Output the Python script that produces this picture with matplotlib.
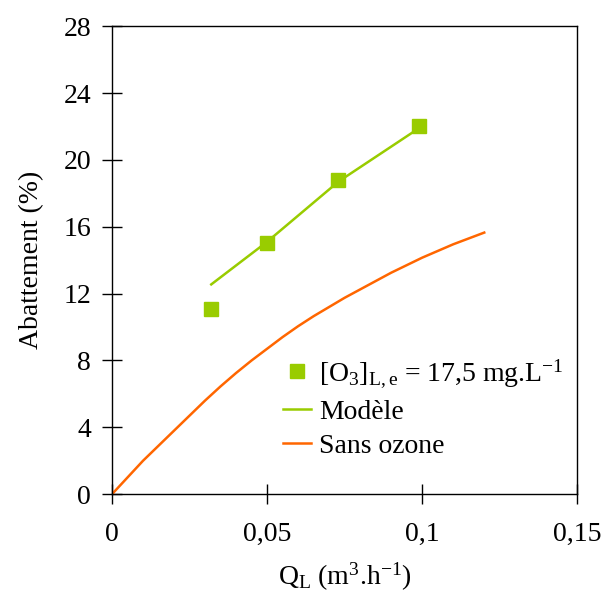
import matplotlib
matplotlib.use("Agg")
import matplotlib.pyplot as plt

# measured points, [O3]L,e = 17,5 mg/L
q_exp = [0.032, 0.050, 0.073, 0.099]
abat_exp = [11.1, 15.0, 18.8, 22.0]

# model curve
q_mod = [0.032, 0.050, 0.073, 0.099]
abat_mod = [12.55, 15.1, 18.7, 21.9]

# without ozone
q_sans = [0, 0.005, 0.01, 0.015, 0.02, 0.025, 0.03, 0.035, 0.04, 0.045, 0.05,
          0.055, 0.06, 0.065, 0.07, 0.075, 0.08, 0.085, 0.09, 0.095, 0.10,
          0.105, 0.11, 0.115, 0.12]
abat_sans = [0, 1.0, 2.0, 2.9, 3.8, 4.7, 5.6, 6.45, 7.25, 8.0, 8.7,
             9.4, 10.05, 10.65, 11.2, 11.75, 12.25, 12.75, 13.25, 13.7, 14.15,
             14.55, 14.95, 15.3, 15.65]

x_ticks = [0, 0.05, 0.1, 0.15]
x_ticklabels = ['0', '0,05', '0,1', '0,15']
y_ticks = [0, 4, 8, 12, 16, 20, 24, 28]

plt.rcParams['font.family'] = 'Liberation Serif'
plt.rcParams['mathtext.fontset'] = 'custom'
plt.rcParams['mathtext.rm'] = 'Liberation Serif'
plt.rcParams['mathtext.it'] = 'Liberation Serif'

fig = plt.figure(figsize=(6.02, 5.94), dpi=100)
ax = fig.add_axes([0.186, 0.168, 0.773, 0.788])

green = '#99CC00'
orange = '#FF6600'

ax.plot(q_exp, abat_exp, 's', color=green, markersize=10, linestyle='none',
        label=r'$\mathregular{[O_3]_{L,e}}$ = 17,5 mg.L$^{\mathregular{-1}}$', zorder=3)
ax.plot(q_mod, abat_mod, '-', color=green, lw=1.8, label='Modèle')
ax.plot(q_sans, abat_sans, '-', color=orange, lw=1.8, label='Sans ozone')

ax.set_xlim(0, 0.15)
ax.set_ylim(0, 28)
ax.set_xticks(x_ticks)
ax.set_xticklabels(x_ticklabels)
ax.set_yticks(y_ticks)
ax.tick_params(direction='inout', length=14, width=1, labelsize=20)
ax.tick_params(axis='x', pad=13)
ax.tick_params(axis='y', pad=8)
for s in ax.spines.values():
    s.set_linewidth(1)

ax.set_xlabel(r'Q$_\mathregular{L}$ (m$^\mathregular{3}$.h$^\mathregular{-1}$)', fontsize=20, labelpad=10)
ax.set_ylabel('Abattement (%)', fontsize=20, labelpad=14)

ax.legend(loc='lower left', bbox_to_anchor=(0.344, 0.0515), frameon=False, fontsize=20,
          handlelength=1.0, handletextpad=0.3, labelspacing=0.32, borderaxespad=0)

fig.savefig('out.png', dpi=100)
